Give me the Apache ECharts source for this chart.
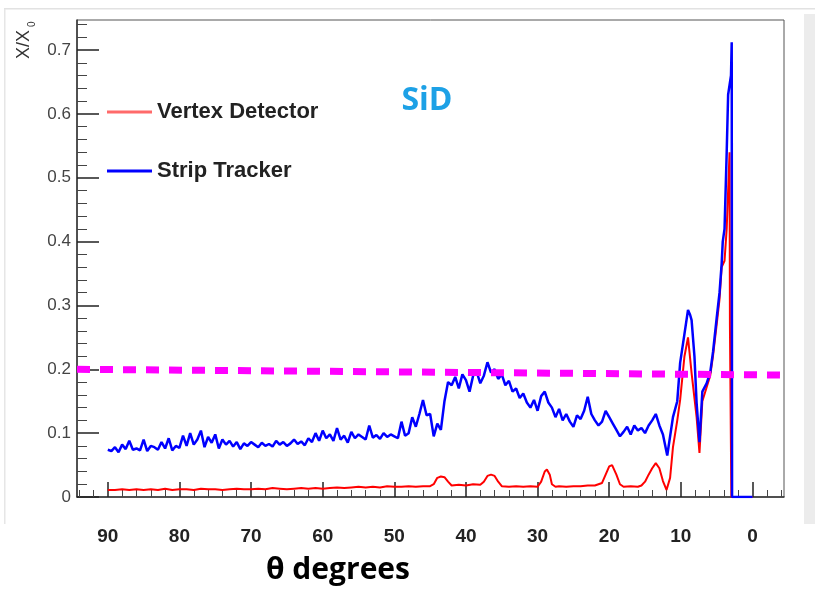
<!DOCTYPE html>
<html>
<head>
<meta charset="utf-8">
<script src="https://cdn.jsdelivr.net/npm/echarts@6/dist/echarts.min.js"></script>
<style>
html,body{margin:0;padding:0;background:#fff;}
#chart{width:815px;height:606px;}
</style>
</head>
<body>
<div id="chart"></div>
<script>
// ---- data ----
const seriesNames = ['Vertex Detector', 'Strip Tracker'];

const blueTheta = [
 90,89.5,89,88.5,88,87.5,87,86.5,86,85.5,85,84.5,84,83.5,83,82.5,82,81.5,81,80.5,80,
 79.5,79,78.5,78,77.5,77,76.5,76,75.5,75,74.5,74,73.5,73,72.5,72,71.5,71,70.5,70,
 69.5,69,68.5,68,67.5,67,66.5,66,65.5,65,64.5,64,63.5,63,62.5,62,61.5,61,60.5,60,
 59.5,59,58.5,58,57.5,57,56.5,56,55.5,55,54.5,54,53.5,53,52.5,52,51.5,51,50.5,50,
 49.5,49,48.5,48,47.5,47,46.5,46,45.5,45,44.5,44,43.5,43,42.5,
 42,41.5,41,40.5,40,39.5,39,38.5,38,37.5,37,36.5,36,35.5,35,
 34.5,34,33.5,33,32.5,32,31.5,31,30.5,30,29.5,29,28.5,28,
 27.5,27,26.5,26,25.5,25,24.5,24,23.5,23,22.5,22,21.5,21,20.5,20,
 19.5,19,18.5,18,17.5,17,16.5,16,15.5,15,14.5,14,13.5,13,12.5,
 11.9,11.1,10.5,10.1,9.5,9.0,8.7,8.5,8.1,7.8,7.4,7.0,6.4,5.9,5.5,5.0,4.6,4.3,4.15,3.9,3.6,3.4,3.0,2.9,2.85,0
];
const blueVals = [
 0.074,0.072,0.078,0.070,0.082,0.075,0.088,0.074,0.076,0.073,0.090,0.072,0.080,0.078,0.074,0.086,0.076,0.092,0.073,0.080,0.077,
 0.096,0.080,0.100,0.082,0.090,0.104,0.078,0.094,0.085,0.098,0.076,0.090,0.082,0.088,0.079,0.086,0.075,0.084,0.080,0.086,
 0.082,0.078,0.085,0.080,0.083,0.079,0.088,0.082,0.086,0.080,0.084,0.090,0.083,0.087,0.081,0.092,0.086,0.100,0.088,0.104,
 0.092,0.098,0.088,0.108,0.090,0.096,0.085,0.102,0.092,0.098,0.094,0.090,0.112,0.093,0.097,0.091,0.100,0.094,0.098,0.095,
 0.092,0.118,0.096,0.100,0.125,0.110,0.130,0.152,0.128,0.130,0.095,0.115,0.105,0.150,0.180,
 0.175,0.188,0.170,0.192,0.183,0.165,0.190,0.196,0.178,0.190,0.211,0.195,0.200,0.185,0.192,
 0.175,0.182,0.165,0.170,0.155,0.162,0.148,0.140,0.152,0.135,0.158,0.165,0.148,0.140,
 0.125,0.138,0.120,0.130,0.118,0.110,0.128,0.122,0.135,0.157,0.130,0.120,0.112,0.118,0.135,0.125,
 0.115,0.105,0.095,0.102,0.110,0.098,0.112,0.104,0.108,0.100,0.112,0.120,0.130,0.112,0.098,
 0.065,0.125,0.150,0.210,0.255,0.293,0.285,0.277,0.220,0.147,0.086,0.165,0.178,0.195,0.228,0.280,0.320,0.366,0.400,0.420,0.540,0.630,0.660,0.712,0,0
];

const redTheta = [
 90,89,88,87,86,85,84,83,82,81,80,79,78,77,76,75,74,73,72,71,70,69,68,67,66,65,64,63,62,61,60,
 59,58,57,56,55,54,53,52,51,50,49,48,47,46,45,44.5,44,43.5,43,42.5,42,41,40,39,38,37.5,37,36.5,36,35.5,35,
 34,33,32,31,30,29.5,29,28.7,28.3,28,27.5,27,26,25,24,23,22,21,20.5,20,19.6,19,18.5,18,17,16,15.5,15,14.5,14,13.5,13,12.5,12,
 11.5,11.1,10.5,10.1,9.5,9.0,8.5,7.8,7.4,7.0,6.4,5.9,5.5,5.0,4.6,4.3,3.9,3.6,3.4,3.2,3.15,3.0,2.95,0
];
const redVals = [
 0.011,0.011,0.012,0.011,0.012,0.011,0.012,0.011,0.013,0.011,0.012,0.012,0.011,0.013,0.012,0.012,0.011,0.012,0.013,0.012,0.012,0.013,0.012,0.014,0.013,0.012,0.013,0.014,0.013,0.014,0.013,
 0.014,0.015,0.014,0.015,0.016,0.015,0.016,0.015,0.017,0.016,0.016,0.017,0.016,0.017,0.017,0.020,0.030,0.032,0.031,0.024,0.018,0.019,0.018,0.020,0.019,0.024,0.033,0.035,0.033,0.024,0.017,
 0.016,0.017,0.016,0.017,0.016,0.024,0.040,0.043,0.035,0.020,0.016,0.017,0.016,0.017,0.017,0.018,0.018,0.022,0.035,0.048,0.050,0.035,0.020,0.016,0.017,0.016,0.018,0.024,0.035,0.045,0.053,0.045,0.025,0.011,
 0.030,0.078,0.120,0.152,0.220,0.250,0.194,0.125,0.069,0.150,0.172,0.190,0.222,0.270,0.310,0.360,0.370,0.420,0.480,0.540,0.270,0.270,0,0
];

const limitTheta = [94.3, -4.4];
const limitVals = [0.2, 0.191];

const xMajorTicks = [0,10,20,30,40,50,60,70,80,90];
const xMinorTicks = [-4,-2,2,4,6,8,12,14,16,18,22,24,26,28,32,34,36,38,42,44,46,48,52,54,56,58,62,64,66,68,72,74,76,78,82,84,86,88,92,94];
const yMajorTicks = [0,0.1,0.2,0.3,0.4,0.5,0.6,0.7];
const yMinorTicks = [0.02,0.04,0.06,0.08,0.12,0.14,0.16,0.18,0.22,0.24,0.26,0.28,0.32,0.34,0.36,0.38,0.42,0.44,0.46,0.48,0.52,0.54,0.56,0.58,0.62,0.64,0.66,0.68,0.72,0.74];

const xMin = -4.4, xMax = 94.3, yMin = 0, yMax = 0.747;

// ---- chart ----
const chart = echarts.init(document.getElementById('chart'), null, {renderer: 'canvas'});
const zip = (a, b) => a.map((t, i) => [t, b[i]]);
const fontMain = "'Liberation Sans', Arial, sans-serif";

const option = {
  animation: false,
  backgroundColor: '#fff',
  grid: {left: 77, right: 31, top: 20, bottom: 109, show: true, borderColor: '#555', borderWidth: 1, backgroundColor: 'transparent'},
  legend: {
    orient: 'vertical', left: 102, top: 96, itemGap: 37,
    itemWidth: 45, itemHeight: 3,
    textStyle: {fontFamily: fontMain, fontWeight: 'bold', fontSize: 22, color: '#222'},
    data: [
      {name: seriesNames[0], icon: 'rect', itemStyle: {color: '#ff6a6a'}},
      {name: seriesNames[1], icon: 'rect', itemStyle: {color: '#0000ff'}}
    ]
  },
  xAxis: [
    {
      type: 'value', inverse: true, min: xMin, max: xMax, position: 'bottom',
      splitLine: {show: false},
      axisLine: {show: true, onZero: false, lineStyle: {color: '#333', width: 1.5}},
      axisTick: {show: true, inside: true, length: 15, customValues: xMajorTicks, lineStyle: {color: '#222', width: 1.5}},
      axisLabel: {show: true, customValues: xMajorTicks, margin: 30, fontFamily: fontMain, fontWeight: 'bold', fontSize: 19, color: '#222'}
    },
    {
      type: 'value', inverse: true, min: xMin, max: xMax, position: 'bottom',
      splitLine: {show: false},
      axisLine: {show: false, onZero: false},
      axisTick: {show: true, inside: true, length: 7, customValues: xMinorTicks, lineStyle: {color: '#444', width: 1}},
      axisLabel: {show: false}
    }
  ],
  yAxis: [
    {
      type: 'value', min: yMin, max: yMax, position: 'left',
      splitLine: {show: false},
      axisLine: {show: true, onZero: false, lineStyle: {color: '#333', width: 1.5}},
      axisTick: {show: true, inside: true, length: 22, customValues: yMajorTicks, lineStyle: {color: '#222', width: 1.5}},
      axisLabel: {show: true, customValues: yMajorTicks, margin: 6, fontFamily: fontMain, fontSize: 17, color: '#444',
        formatter: v => (v === 0 ? '0' : v.toFixed(1))}
    },
    {
      type: 'value', min: yMin, max: yMax, position: 'left',
      splitLine: {show: false},
      axisLine: {show: false, onZero: false},
      axisTick: {show: true, inside: true, length: 10, customValues: yMinorTicks, lineStyle: {color: '#444', width: 1}},
      axisLabel: {show: false}
    }
  ],
  series: [
    {
      name: seriesNames[0], type: 'line', xAxisIndex: 0, yAxisIndex: 0,
      data: zip(redTheta, redVals), showSymbol: false, symbol: 'none',
      lineStyle: {color: '#ff0000', width: 2}, itemStyle: {color: '#ff0000'}, z: 2
    },
    {
      name: seriesNames[1], type: 'line', xAxisIndex: 0, yAxisIndex: 0,
      data: zip(blueTheta, blueVals), showSymbol: false, symbol: 'none',
      lineStyle: {color: '#0000ff', width: 2.5}, itemStyle: {color: '#0000ff'}, z: 3
    },
    {
      name: 'limit', type: 'line', xAxisIndex: 0, yAxisIndex: 0,
      data: zip(limitTheta, limitVals), showSymbol: false, symbol: 'none',
      lineStyle: {color: '#ff00ff', width: 7, type: [13, 10]}, z: 4, silent: true
    }
  ],
  graphic: [
    {type: 'rect', shape: {x: 4, y: 8, width: 811, height: 1.5}, style: {fill: '#e2e2e2'}, silent: true},
    {type: 'rect', shape: {x: 4, y: 9, width: 1.5, height: 515}, style: {fill: '#e6e6e6'}, silent: true},
    {type: 'rect', shape: {x: 804, y: 14, width: 11, height: 510}, style: {fill: '#ececec'}, silent: true},
    {type: 'text', x: 33, y: 59, rotation: Math.PI / 2,
      style: {text: 'X/X', fontFamily: fontMain, fontSize: 18, fill: '#333', textVerticalAlign: 'bottom', textAlign: 'left'}},
    {type: 'text', x: 37, y: 27, rotation: Math.PI / 2,
      style: {text: '0', fontFamily: fontMain, fontSize: 10, fill: '#333', textVerticalAlign: 'bottom', textAlign: 'left'}},
    {type: 'text', x: 427, y: 101,
      style: {text: 'SiD', fontFamily: "'Open Sans', sans-serif", fontWeight: 'bold', fontSize: 32, fill: '#1da1e6', textAlign: 'center', textVerticalAlign: 'middle'}},
    {type: 'text', x: 338, y: 570,
      style: {text: 'θ degrees', fontFamily: "'Open Sans', sans-serif", fontWeight: 'bold', fontSize: 30, fill: '#000', textAlign: 'center', textVerticalAlign: 'middle'}}
  ]
};
chart.setOption(option);
</script>
</body>
</html>
